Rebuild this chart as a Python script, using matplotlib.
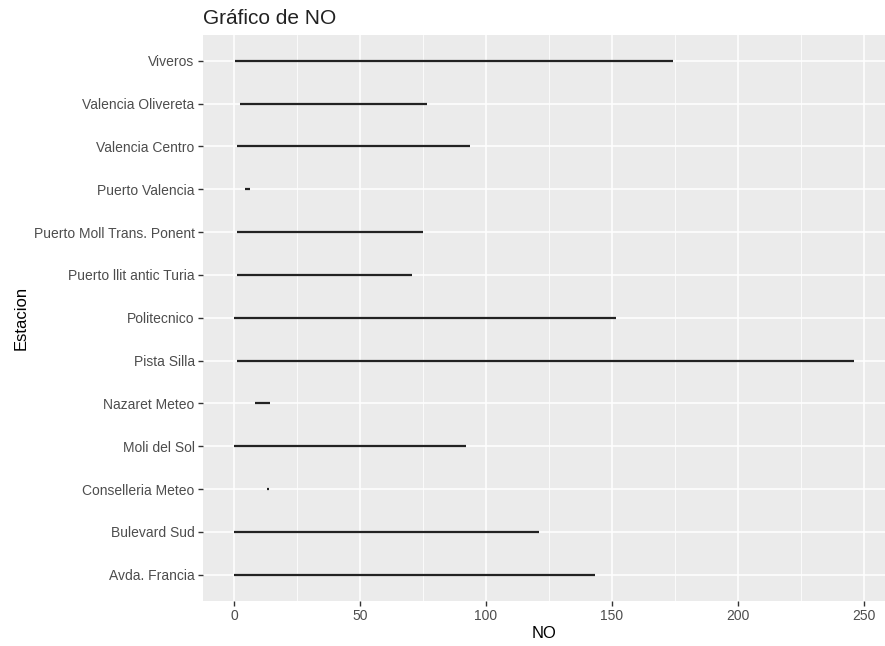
import matplotlib.pyplot as plt
from matplotlib.ticker import MultipleLocator

estaciones = ['Avda. Francia', 'Bulevard Sud', 'Conselleria Meteo', 'Moli del Sol',
              'Nazaret Meteo', 'Pista Silla', 'Politecnico', 'Puerto llit antic Turia',
              'Puerto Moll Trans. Ponent', 'Puerto Valencia', 'Valencia Centro',
              'Valencia Olivereta', 'Viveros']
no_min = [0, 0, 13, 0, 8.3, 1.2, 0, 1.3, 1.3, 4.5, 1.2, 2.4, 0.4]
no_max = [143.3, 120.9, 14, 91.9, 14.2, 246, 151.7, 70.8, 75, 6.3, 93.6, 76.6, 174.3]

plt.rcParams['font.family'] = ['Liberation Sans', 'DejaVu Sans']

fig = plt.figure(figsize=(8.85, 6.46), dpi=100)
ax = fig.add_axes([0.2294, 0.0704, 0.7706, 0.8754])
ax.set_facecolor('#EBEBEB')

ypos = list(range(len(estaciones)))
ax.hlines(ypos, no_min, no_max, color='#222222', lw=1.6, zorder=3)

lo, hi = min(no_min), max(no_max)
pad = 0.05 * (hi - lo)
ax.set_xlim(lo - pad, hi + pad)
ax.set_ylim(-0.6, len(estaciones) - 0.4)

ax.xaxis.set_major_locator(MultipleLocator(50))
ax.xaxis.set_minor_locator(MultipleLocator(25))
ax.set_yticks(ypos)
ax.set_yticklabels(estaciones)

ax.grid(which='major', color='white', lw=1.1, zorder=0)
ax.grid(which='minor', axis='x', color='white', lw=0.55, zorder=0)
ax.set_axisbelow(True)
for s in ax.spines.values():
    s.set_visible(False)

ax.tick_params(which='major', length=3.5, width=1, color='#333333',
               labelcolor='#4D4D4D', labelsize=10, pad=2.5)
ax.tick_params(which='minor', length=0)

ax.set_xlabel('NO', fontsize=12, color='black', labelpad=2)
ax.set_ylabel('Estacion', fontsize=12, color='black', labelpad=4)
ax.set_title('Gráfico de NO', fontsize=15, loc='left', pad=8, color='#222222')

fig.savefig('out.png', dpi=100)
